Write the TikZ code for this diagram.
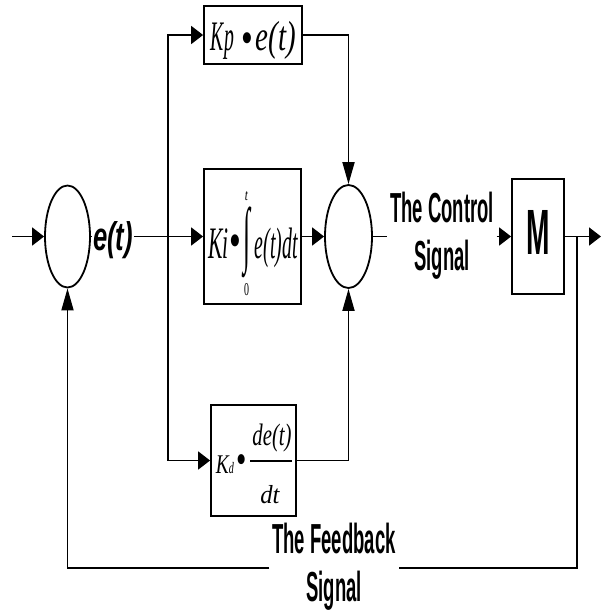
\documentclass[tikz,border=0pt]{standalone}
\usepackage{fontspec}
\usepackage{graphicx}
\setmainfont{Liberation Serif}
\newfontfamily\lblf[FakeStretch=0.44]{Liberation Sans}
\newfontfamily\etf[FakeStretch=0.64]{Liberation Sans}
\usetikzlibrary{arrows.meta,shapes.geometric,calc}
\newcommand\myfs[1]{\fontsize{#1}{#1}\selectfont}
\newcommand\myfsb[2]{\fontsize{#1}{#2}\selectfont}
% bullet glyph scaled so that its ink is exactly #1 wide and #2 tall
\newcommand\bul[2]{\begingroup\fontsize{50}{50}\selectfont
  \dimen0=\XeTeXglyphbounds1 \XeTeXcharglyph"2022\relax
  \dimen2=\XeTeXglyphbounds2 \XeTeXcharglyph"2022\relax
  \dimen4=\XeTeXglyphbounds3 \XeTeXcharglyph"2022\relax
  \dimen6=\XeTeXglyphbounds4 \XeTeXcharglyph"2022\relax
  \setbox0=\hbox{\kern-\dimen0\raise\dimen6\hbox{•}\kern-\dimen4}%
  \ht0=\dimexpr\dimen2+\dimen6\relax \dp0=0pt
  \resizebox*{#1}{#2}{\box0}\endgroup}
\begin{document}
\begin{tikzpicture}[x=1pt,y=-1pt,line width=1.8pt,
  harr/.style={-{Triangle[length=12pt,width=18pt]}},
  varr/.style={-{Triangle[length=22pt,width=12pt]}},
  sumnode/.style={ellipse,draw,inner sep=0pt},
  blk/.style={rectangle,draw,inner sep=0pt},
  txt/.style={inner sep=0pt,anchor=base},
  txtw/.style={inner sep=0pt,anchor=base west},
  dot/.style={inner sep=0pt,anchor=center},
  sig/.style={inner sep=0pt,inner xsep=2pt,align=center}]
\useasboundingbox (0,0) rectangle (601,611);
% summing junctions
\node[sumnode,minimum width=45pt,minimum height=102pt] (sum1) at (67.5,236.5) {};
\node[sumnode,minimum width=47pt,minimum height=103pt] (sum2) at (348.5,236.5) {};
% blocks
\node[blk,minimum width=98pt,minimum height=58pt] (Kp) at (253,35) {};
\node[blk,minimum width=97pt,minimum height=135pt] (Ki) at (252.5,236.5) {};
\node[blk,minimum width=85pt,minimum height=111pt] (Kd) at (253.5,460.5) {};
\node[blk,minimum width=52pt,minimum height=115pt,text depth=9pt,font=\lblf\bfseries\myfs{64}] (M) at (538,236.5) {M};
% block contents
\node[txtw] (kpK) at (210,50) {\myfs{42}\itshape\scalebox{0.47}[1]{Kp}};
\node[dot] (kpdot) at (247.5,38.5) {\bul{8pt}{11pt}};
\node[txtw] (kpe) at (255,50) {\myfs{42}\itshape\scalebox{0.69}[1]{e(t)}};
\node[txtw] (kiK) at (207.5,258) {\myfs{45}\itshape\scalebox{0.48}[1]{Ki}};
\node[dot] (kidot) at (235,241) {\bul{8pt}{12pt}};
\node[inner sep=0pt] (kiint) at (246.5,242.5) {\resizebox*{7pt}{71pt}{∫}};
\node[txt] (kitop) at (246.5,200) {\myfs{16}\itshape\scalebox{0.7}[1]{t}};
\node[txt] (kibot) at (246.5,295) {\myfs{18}\scalebox{0.55}[1]{0}};
\node[txtw] (kie) at (254,258) {\myfs{44}\itshape\scalebox{0.45}[1]{e(t)dt}};
\node[txtw] (kdK) at (215,473) {\myfs{27}\itshape\scalebox{0.72}[1]{K}};
\node[txtw] (kdsub) at (228,473) {\myfs{16}\itshape\scalebox{0.63}[1]{d}};
\node[dot] (kddot) at (242,460) {\bul{7pt}{10pt}};
\node[txt] (kdnum) at (272,445) {\myfs{31}\itshape\scalebox{0.67}[1]{de(t)}};
\node[txt] (kdden) at (270,503) {\myfs{26}\itshape\scalebox{0.95}[1]{dt}};
\draw[line width=1.6pt] (250,461) -- (292,461);
% signal labels
\node[inner sep=0pt,font=\etf\bfseries\itshape\myfs{40}] (et) at (113,240) {e(t)};
\node[sig,font=\lblf\bfseries\myfsb{42}{48}] (ctrl) at (442,236) {The Control\\Signal};
\node[sig,font=\lblf\bfseries\myfsb{42}{48}] (fb) at (334,567) {The Feedback\\Signal};
% coordinates
\coordinate (in) at (12,236.5);
\coordinate (br) at (168,236.5);
\coordinate (out) at (601,236.5);
\coordinate (tap) at (577,236.5);
\coordinate (c1) at (577,568);
% connectors
\draw[harr] (in) -- (sum1.west);
\draw (sum1.east) -- (sum1.east -| et.west);
\draw[harr] (et.east |- sum1.east) -- (Ki.west);
\draw[harr] (br) |- (Kp.west);
\draw[harr] (br) |- (Kd.west);
\draw[varr] (Kp.east) -| (sum2.north);
\draw[harr] (Ki.east) -- (sum2.west);
\draw[varr] (Kd.east) -| (sum2.south);
\draw (sum2.east) -- (sum2.east -| ctrl.west);
\draw[harr] (ctrl.east |- sum2.east) -- (M.west);
\draw[harr] (M.east) -- (out);
\draw (tap) -- (c1) -- (c1 -| fb.east);
\draw[varr] (c1 -| fb.west) -| (sum1.south);
\end{tikzpicture}
\end{document}
